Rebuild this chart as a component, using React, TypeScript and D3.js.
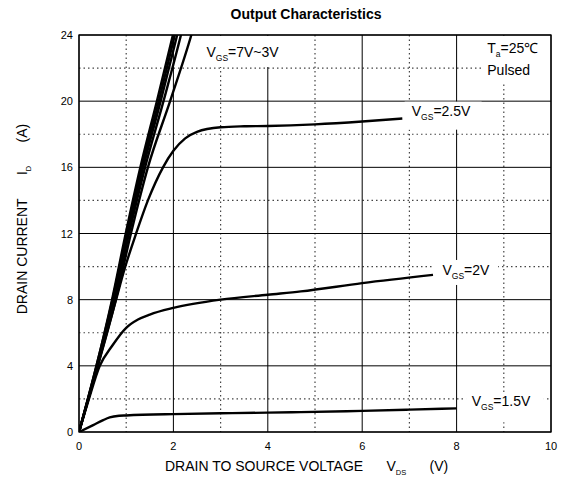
import React, { useEffect, useRef } from "react";
import * as d3 from "d3";

type Pt = [number, number];

// readings in (VDS [V], ID [A])
const vgs7: Pt[] = [[0, 0], [0.37, 4], [0.7, 8], [0.99, 12], [1.3, 16], [1.65, 20], [1.99, 24], [2.05, 24.7]];
const vgs6: Pt[] = [[0, 0], [0.37, 4], [0.71, 8], [1.01, 12], [1.33, 16], [1.69, 20], [2.03, 24], [2.09, 24.7]];
const vgs5: Pt[] = [[0, 0], [0.38, 4], [0.73, 8], [1.03, 12], [1.36, 16], [1.73, 20], [2.08, 24], [2.14, 24.7]];
const vgs4: Pt[] = [[0, 0], [0.39, 4], [0.75, 8], [1.06, 12], [1.4, 16], [1.79, 20], [2.16, 24], [2.22, 24.7]];
const vgs3: Pt[] = [[0, 0], [0.4, 4], [0.78, 8], [1.1, 12], [1.46, 16], [1.93, 20], [2.38, 24], [2.45, 24.7]];
const vgs25: Pt[] = [[0, 0], [0.4, 4.05], [0.78, 7.95], [0.97, 9.9], [1.21, 12], [1.46, 14], [1.78, 16], [2.0, 17], [2.25, 17.75], [2.5, 18.15], [3, 18.42], [3.5, 18.48], [4, 18.5], [5, 18.6], [6, 18.77], [6.85, 18.95]];
const vgs2: Pt[] = [[0, 0], [0.2, 1.9], [0.44, 4], [0.7, 5.2], [1, 6.3], [1.25, 6.8], [1.5, 7.1], [2, 7.5], [3, 8.0], [4, 8.3], [4.7, 8.5], [6, 9.0], [7.5, 9.5]];
const vgs15: Pt[] = [[0, 0], [0.3, 0.42], [0.5, 0.7], [0.65, 0.88], [0.85, 0.98], [1, 1.0], [2, 1.08], [3, 1.13], [4, 1.17], [4.7, 1.2], [6, 1.28], [7, 1.35], [8, 1.43]];

const curves: Pt[][] = [vgs7, vgs6, vgs5, vgs4, vgs3, vgs25, vgs2, vgs15];

const xMajor = [0, 2, 4, 6, 8, 10];
const xMinor = [1, 3, 5, 7, 9];
const yMajor = [0, 4, 8, 12, 16, 20, 24];
const yMinor = [2, 6, 10, 14, 18, 22];

const W = 562;
const H = 479;
const margin = { top: 35, right: 11, bottom: 47, left: 79 };
const FONT = "'Liberation Sans', Arial, Helvetica, sans-serif";
const GAP = "\u00a0\u00a0\u00a0\u00a0\u00a0\u00a0";

export default function App() {
  const ref = useRef<SVGSVGElement>(null);

  useEffect(() => {
    const svg = d3.select(ref.current);
    svg.selectAll("*").remove();
    const iw = W - margin.left - margin.right;
    const ih = H - margin.top - margin.bottom;
    const x = d3.scaleLinear().domain([0, 10]).range([0, iw]);
    const y = d3.scaleLinear().domain([0, 24]).range([ih, 0]);

    svg.append("rect").attr("width", W).attr("height", H).attr("fill", "#fff");

    const g = svg.append("g").attr("transform", `translate(${margin.left},${margin.top})`);

    svg
      .append("defs")
      .append("clipPath")
      .attr("id", "plotclip")
      .append("rect")
      .attr("width", iw)
      .attr("height", ih);

    // minor dotted grid
    g.selectAll(".vmin")
      .data(xMinor)
      .enter()
      .append("line")
      .attr("x1", (d) => x(d))
      .attr("x2", (d) => x(d))
      .attr("y1", 0)
      .attr("y2", ih)
      .attr("stroke", "#444")
      .attr("stroke-width", 1.2)
      .attr("stroke-dasharray", "1.5,3");
    g.selectAll(".hmin")
      .data(yMinor)
      .enter()
      .append("line")
      .attr("x1", 0)
      .attr("x2", iw)
      .attr("y1", (d) => y(d))
      .attr("y2", (d) => y(d))
      .attr("stroke", "#444")
      .attr("stroke-width", 1.2)
      .attr("stroke-dasharray", "1.5,3");

    // major solid grid
    g.selectAll(".vmaj")
      .data(xMajor)
      .enter()
      .append("line")
      .attr("x1", (d) => x(d))
      .attr("x2", (d) => x(d))
      .attr("y1", 0)
      .attr("y2", ih)
      .attr("stroke", "#000")
      .attr("stroke-width", 1);
    g.selectAll(".hmaj")
      .data(yMajor)
      .enter()
      .append("line")
      .attr("x1", 0)
      .attr("x2", iw)
      .attr("y1", (d) => y(d))
      .attr("y2", (d) => y(d))
      .attr("stroke", "#000")
      .attr("stroke-width", 1);

    // white boxes hiding the grid behind labels
    const box = (x0: number, y0: number, w: number, h: number) =>
      g.append("rect").attr("x", x0).attr("y", y0).attr("width", w).attr("height", h).attr("fill", "#fff");
    box(x(2.6), 1, x(4.9) - x(2.6), 31);
    box(x(8.55), 1, x(10) - x(8.55) - 2, 47);
    box(x(6.9), y(20) + 0.5, x(8.53) - x(6.9), 28);
    box(x(7.5), y(10.4), x(8.88) - x(7.5), 25);
    box(x(8.2), y(2.4), x(9.85) - x(8.2), 30);

    const lineGen = d3
      .line<Pt>()
      .x((d) => x(d[0]))
      .y((d) => y(d[1]))
      .curve(d3.curveMonotoneX);

    g.append("g")
      .attr("clip-path", "url(#plotclip)")
      .selectAll("path")
      .data(curves)
      .enter()
      .append("path")
      .attr("d", (d) => lineGen(d))
      .attr("fill", "none")
      .attr("stroke", "#000")
      .attr("stroke-width", 2.4)
      .attr("stroke-linejoin", "round");

    // frame
    g.append("rect")
      .attr("width", iw)
      .attr("height", ih)
      .attr("fill", "none")
      .attr("stroke", "#000")
      .attr("stroke-width", 1.3);

    // tick labels
    g.selectAll(".xt")
      .data(xMajor)
      .enter()
      .append("text")
      .attr("x", (d) => x(d))
      .attr("y", ih + 18)
      .attr("text-anchor", "middle")
      .attr("font-family", FONT)
      .attr("font-size", 11)
      .text((d) => d);
    g.selectAll(".yt")
      .data(yMajor)
      .enter()
      .append("text")
      .attr("x", -6)
      .attr("y", (d) => y(d) + 4)
      .attr("text-anchor", "end")
      .attr("font-family", FONT)
      .attr("font-size", 11)
      .text((d) => d);

    // subscripted label helper
    const subLabel = (px: number, py: number, main: string, sub: string, rest: string, size = 14) => {
      const t = g
        .append("text")
        .attr("x", px)
        .attr("y", py)
        .attr("font-family", FONT)
        .attr("font-size", size);
      t.append("tspan").text(main);
      t.append("tspan").attr("font-size", 8.5).attr("dy", 4).text(sub);
      t.append("tspan").attr("dy", -4).text(rest);
      return t;
    };

    subLabel(x(2.7), 22, "V", "GS", "=7V~3V");
    subLabel(x(7.05), y(20) + 15, "V", "GS", "=2.5V");
    subLabel(x(7.7), y(9.5), "V", "GS", "=2V");
    subLabel(x(8.32), y(1.5) - 1.5, "V", "GS", "=1.5V");

    const ta = g
      .append("text")
      .attr("x", x(8.65))
      .attr("y", 18)
      .attr("font-family", FONT)
      .attr("font-size", 14);
    ta.append("tspan").text("T");
    ta.append("tspan").attr("font-size", 8.5).attr("dy", 4).text("a");
    ta.append("tspan").attr("dy", -4).text("=25\u2103");
    g.append("text")
      .attr("x", x(8.65))
      .attr("y", 40)
      .attr("font-family", FONT)
      .attr("font-size", 14)
      .text("Pulsed");

    // title
    svg
      .append("text")
      .attr("x", 306)
      .attr("y", 19)
      .attr("text-anchor", "middle")
      .attr("font-family", FONT)
      .attr("font-size", 14)
      .attr("font-weight", "bold")
      .text("Output Characteristics");

    // x axis title
    const xt = svg
      .append("text")
      .attr("x", 165)
      .attr("y", 471)
      .attr("font-family", FONT)
      .attr("font-size", 14);
    xt.append("tspan").text(`DRAIN TO SOURCE VOLTAGE${GAP}V`);
    xt.append("tspan").attr("font-size", 7.5).attr("dy", 4).text("DS");
    xt.append("tspan").attr("dy", -4).text(`${GAP}(V)`);

    // y axis title
    const yt = svg
      .append("text")
      .attr("transform", `translate(27, 219) rotate(-90)`)
      .attr("text-anchor", "middle")
      .attr("font-family", FONT)
      .attr("font-size", 14);
    yt.append("tspan").text(`DRAIN CURRENT${GAP}I`);
    yt.append("tspan").attr("font-size", 7.5).attr("dy", 4).text("D");
    yt.append("tspan").attr("dy", -4).text(`${GAP}(A)`);
  }, []);

  return (
    <svg
      ref={ref}
      width={W}
      height={H}
      style={{ position: "absolute", left: 0, top: 0, display: "block" }}
    />
  );
}
